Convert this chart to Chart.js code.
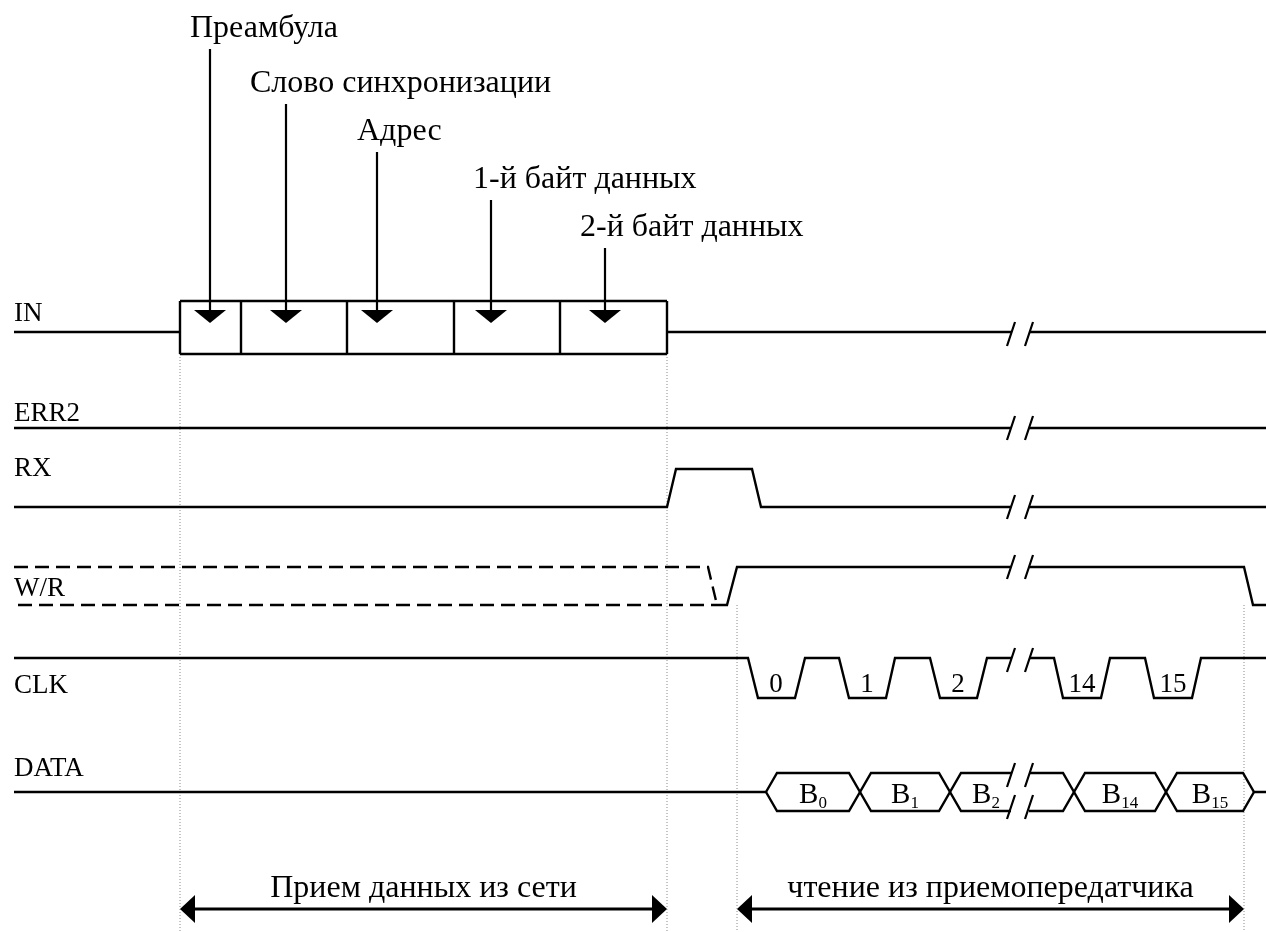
<!DOCTYPE html>
<html><head><meta charset="utf-8">
<script src="https://cdn.jsdelivr.net/npm/chart.js@4.4.1/dist/chart.umd.min.js"></script>
<style>html,body{margin:0;padding:0;background:#fff}#wrap{width:1266px;height:932px;position:relative}</style>
</head><body><div id="wrap"><canvas id="c"></canvas></div>
<script>
// ================= DATA (time axis in diagram units) =================
const signalNames = ['IN', 'ERR2', 'RX', 'W/R', 'CLK', 'DATA'];
const fieldLabels = ['Преамбула', 'Слово синхронизации', 'Адрес', '1-й байт данных', '2-й байт данных'];
const fieldBounds = [180, 241, 347, 454, 560, 667];
const fieldMarkers = [210, 286, 377, 491, 605];
const breakTimes = [1011, 1029];
// levels: 1 = high, 0 = low, 0.5 = idle / middle
const inWaveLeft = [[14, 0.5], [180, 0.5]];
const inWaveRight = [[667, 0.5], [1011, 0.5], null, [1029, 0.5], [1266, 0.5]];
const err2Wave = [[14, 0], [1011, 0], null, [1029, 0], [1266, 0]];
const rxWave = [[14, 0], [667, 0], [676, 1], [752, 1], [761, 0], [1011, 0], null, [1029, 0], [1266, 0]];
const wrUnknownHigh = [[14, 1], [708, 1], [717, 0]];
const wrUnknownLow = [[18, 0], [717, 0]];
const wrWave = [[717, 0], [727, 0], [737, 1], [1011, 1], null, [1029, 1], [1244, 1], [1253, 0], [1266, 0]];
const clkWave = [[14, 1], [748, 1], [758, 0], [795, 0], [805, 1], [839, 1], [849, 0], [886, 0], [895, 1], [930, 1], [940, 0], [977, 0], [987, 1], [1011, 1], null,
                 [1029, 1], [1054, 1], [1063, 0], [1101, 0], [1110, 1], [1145, 1], [1154, 0], [1192, 0], [1201, 1], [1266, 1]];
const clkLabels = ['0', '1', '2', '14', '15'];
const clkLabelTimes = [776, 867, 958, 1082, 1173];
const dataEdges = [766, 860, 950, 1074, 1166, 1254];
const dataCellNames = ['0', '1', '2', '14', '15'];
const dataCellCenters = [813, 905, 986, 1120, 1210];
const guideTimes = [180, 667, 737, 1244];
const spanRanges = [[180, 667], [737, 1244]];
const spanLabels = ['Прием данных из сети', 'чтение из приемопередатчика'];

// ================= LAYOUT (vertical positions / styles) =================
const lanes = {
  'IN':   {high: 301, low: 354, mid: 332, label: 321},
  'ERR2': {high: 390, low: 428, mid: 428, label: 421},
  'RX':   {high: 469, low: 507, mid: 488, label: 476},
  'W/R':  {high: 567, low: 605, mid: 586, label: 596},
  'CLK':  {high: 658, low: 698, mid: 678, label: 693},
  'DATA': {high: 773, low: 811, mid: 792, label: 776}
};
const topLabelLeft = [190, 250, 357, 473, 580];
const topLabelBase = [37, 92, 140, 188, 236];
const triTop = 310, triTip = 323, triHalf = 16;
const spanArrowY = 909, spanTextBase = 897;
const guideStart = [354, 354, 605, 605];
const dataSlope = 11;
const SERIF = '"Liberation Serif", "Times New Roman", serif';

function lv(lane, l) { const L = lanes[lane]; return l === 1 ? L.high : l === 0 ? L.low : L.mid; }
function wave(lane, arr) {
  return arr.map(p => p === null ? {x: (breakTimes[0] + breakTimes[1]) / 2, y: null} : {x: p[0], y: lv(lane, p[1])});
}
const black = {borderColor: '#000', borderWidth: 2.4, pointRadius: 0, showLine: true, fill: false, spanGaps: false, tension: 0};
const ds = [];
function add(data, extra) { ds.push(Object.assign({data}, black, extra || {})); }

// IN box
add(wave('IN', inWaveLeft));
add(wave('IN', inWaveRight));
add([{x: fieldBounds[0], y: lanes.IN.high}, {x: fieldBounds[fieldBounds.length - 1], y: lanes.IN.high}]);
add([{x: fieldBounds[0], y: lanes.IN.low}, {x: fieldBounds[fieldBounds.length - 1], y: lanes.IN.low}]);
fieldBounds.forEach(t => add([{x: t, y: lanes.IN.high}, {x: t, y: lanes.IN.low}]));
// marker lines
fieldMarkers.forEach((t, i) => add([{x: t, y: topLabelBase[i] + 12}, {x: t, y: triTop}], {borderWidth: 2.2}));
add(wave('ERR2', err2Wave));
add(wave('RX', rxWave));
add(wave('W/R', wrUnknownHigh), {borderDash: [14, 7]});
add(wave('W/R', wrUnknownLow), {borderDash: [14, 7]});
add(wave('W/R', wrWave));
add(wave('CLK', clkWave));
// DATA bus
(function () {
  const e = dataEdges, s = dataSlope;
  add(wave('DATA', [[14, 0.5], [e[0], 0.5]]));
  const p1 = [[e[0], 0.5]], p2 = [[e[0], 0.5]];
  let up = 1;
  for (let i = 0; i < e.length; i++) {
    const first = i === 0, last = i === e.length - 1;
    if (first) { p1.push([e[i] + s, 1]); p2.push([e[i] + s, 0]); continue; }
    if (i === 3) {
      p1.push([breakTimes[0], up]); p2.push([breakTimes[0], 1 - up]);
      p1.push(null); p2.push(null);
      p1.push([breakTimes[1], up]); p2.push([breakTimes[1], 1 - up]);
    }
    if (last) { p1.push([e[i] - s, up], [e[i], 0.5], [1266, 0.5]); p2.push([e[i] - s, 1 - up], [e[i], 0.5]); continue; }
    p1.push([e[i] - s, up], [e[i] + s, 1 - up]);
    p2.push([e[i] - s, 1 - up], [e[i] + s, up]);
    up = 1 - up;
  }
  add(wave('DATA', p1));
  add(wave('DATA', p2));
})();
// guides
guideTimes.forEach((t, i) => add([{x: t, y: guideStart[i]}, {x: t, y: 932}], {borderColor: '#8a8a8a', borderWidth: 1, borderDash: [1, 2]}));
// span arrows
spanRanges.forEach(r => add([{x: r[0] + 8, y: spanArrowY}, {x: r[1] - 8, y: spanArrowY}], {borderWidth: 3}));

const decor = {
  id: 'decor',
  afterDatasetsDraw(chart) {
    const {ctx, scales: {x, y}} = chart;
    const X = v => x.getPixelForValue(v), Y = v => y.getPixelForValue(v);
    ctx.save();
    ctx.fillStyle = '#000'; ctx.strokeStyle = '#000';
    ctx.textBaseline = 'alphabetic';
    // top labels
    ctx.font = '32px ' + SERIF; ctx.textAlign = 'left';
    fieldLabels.forEach((t, i) => ctx.fillText(t, X(topLabelLeft[i]), Y(topLabelBase[i])));
    // triangles
    fieldMarkers.forEach(t => {
      ctx.beginPath();
      ctx.moveTo(X(t - triHalf), Y(triTop)); ctx.lineTo(X(t + triHalf), Y(triTop)); ctx.lineTo(X(t), Y(triTip));
      ctx.closePath(); ctx.fill();
    });
    // signal names
    ctx.font = '27px ' + SERIF;
    signalNames.forEach(n => ctx.fillText(n, X(14), Y(lanes[n].label)));
    // break marks
    ctx.lineWidth = 2.2;
    const slash = (cx, cy) => { ctx.beginPath(); ctx.moveTo(X(cx - 4), Y(cy + 12)); ctx.lineTo(X(cx + 4), Y(cy - 12)); ctx.stroke(); };
    const brk = cy => { slash(breakTimes[0], cy); slash(breakTimes[1], cy); };
    brk(lanes.IN.mid + 2); brk(lanes.ERR2.low); brk(lanes.RX.low); brk(lanes['W/R'].high); brk(lanes.CLK.high + 2);
    brk(lanes.DATA.high + 2); brk(lanes.DATA.low - 4);
    // clk labels
    ctx.font = '27px ' + SERIF; ctx.textAlign = 'center';
    clkLabels.forEach((t, i) => ctx.fillText(t, X(clkLabelTimes[i]), Y(692)));
    // data labels
    dataCellNames.forEach((sub, i) => {
      ctx.font = '29px ' + SERIF; const wB = ctx.measureText('B').width;
      ctx.font = '17px ' + SERIF; const wS = ctx.measureText(sub).width;
      const left = X(dataCellCenters[i]) - (wB + wS) / 2;
      ctx.textAlign = 'left';
      ctx.font = '29px ' + SERIF; ctx.fillText('B', left, Y(803));
      ctx.font = '17px ' + SERIF; ctx.fillText(sub, left + wB, Y(808));
    });
    // span arrows heads and text
    spanRanges.forEach((r, i) => {
      ctx.beginPath(); ctx.moveTo(X(r[0]), Y(spanArrowY)); ctx.lineTo(X(r[0] + 15), Y(spanArrowY - 14)); ctx.lineTo(X(r[0] + 15), Y(spanArrowY + 14)); ctx.closePath(); ctx.fill();
      ctx.beginPath(); ctx.moveTo(X(r[1]), Y(spanArrowY)); ctx.lineTo(X(r[1] - 15), Y(spanArrowY - 14)); ctx.lineTo(X(r[1] - 15), Y(spanArrowY + 14)); ctx.closePath(); ctx.fill();
      ctx.font = '32px ' + SERIF; ctx.textAlign = 'center';
      ctx.fillText(spanLabels[i], X((r[0] + r[1]) / 2), Y(spanTextBase));
      ctx.textAlign = 'left';
    });
    ctx.restore();
  }
};

new Chart(document.getElementById('c'), {
  type: 'scatter',
  data: {datasets: ds},
  options: {
    responsive: true, maintainAspectRatio: false, animation: false,
    layout: {padding: 0},
    plugins: {legend: {display: false}, tooltip: {enabled: false}, title: {display: false}},
    scales: {
      x: {type: 'linear', min: 0, max: 1266, display: false},
      y: {type: 'linear', min: 0, max: 932, reverse: true, display: false}
    },
    elements: {line: {borderCapStyle: 'butt', borderJoinStyle: 'miter'}}
  },
  plugins: [decor]
});
</script></body></html>
